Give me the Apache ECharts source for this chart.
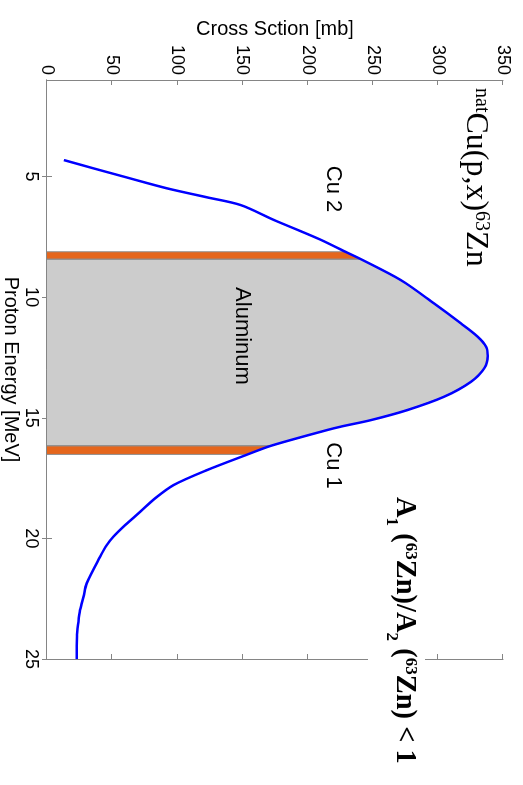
<!DOCTYPE html>
<html>
<head>
<meta charset="utf-8">
<script src="https://cdn.jsdelivr.net/npm/echarts@6/dist/echarts.min.js"></script>
<style>
html,body{margin:0;padding:0;width:523px;height:785px;overflow:hidden;background:#fff;}
#chart{position:absolute;left:0;top:0;width:785px;height:523px;transform-origin:0 0;transform:translate(523px,0) rotate(90deg);}
</style>
</head>
<body>
<div id="chart"></div>
<script>
// Proton energy [MeV] and natCu(p,x)63Zn cross section [mb]
const energyMeV = [4.32, 4.66, 5.00, 5.49, 5.86, 6.18, 6.80, 7.56, 8.12, 8.43, 9.29, 10.26, 11.09, 11.64, 12.06, 12.44, 12.95, 13.51, 14.13, 14.68, 15.10, 15.37, 15.51, 16.16, 16.52, 17.17, 17.79, 18.34, 18.90, 19.45, 19.93, 20.28, 20.76, 21.86, 22.42, 22.97, 23.52, 24.07, 25.00];
const crossSectionMb = [13, 35.5, 58.5, 92, 122.5, 148.5, 174, 207.5, 229, 241, 271.5, 297, 317.7, 330.5, 337, 338.2, 335.6, 325.4, 304.8, 276.7, 248.5, 225.4, 215, 172, 154, 122.8, 97.2, 83, 71.5, 60, 51, 45.9, 40.8, 30.5, 28, 25.4, 24, 23, 22.8];

// Foil energy windows [MeV]
const cu2Range = [8.12, 8.43];
const aluminumRange = [8.43, 16.16];
const cu1Range = [16.16, 16.52];

// Axis ticks
const energyTicks = [5, 10, 15, 20, 25];
const crossTicks = [0, 50, 100, 150, 200, 250, 300, 350];

const curve = energyMeV.map((e, i) => [e, crossSectionMb[i]]);
function band(range) {
  const pts = curve.filter(p => p[0] >= range[0] - 1e-9 && p[0] <= range[1] + 1e-9);
  return [[pts[0][0], 0]].concat(pts, [[pts[pts.length - 1][0], 0]]);
}

const AX = '#858585';
const SANS = 'Liberation Sans, Arial, sans-serif';
const SERIF = 'Liberation Serif, Times New Roman, serif';

const chart = echarts.init(document.getElementById('chart'));

function bandSeries(name, range, color) {
  return {
    name: name, type: 'line', data: band(range), showSymbol: false, symbol: 'none',
    lineStyle: { color: '#8f8f8f', width: 1 },
    areaStyle: { color: color, opacity: 1 },
    z: 2, silent: true
  };
}

const axisCommonX = {
  type: 'value', min: 1, max: 25,
  axisLine: { show: true, lineStyle: { color: AX, width: 1 } },
  axisTick: { show: true, inside: true, length: 5, customValues: energyTicks, lineStyle: { color: AX } },
  splitLine: { show: false }
};
const axisCommonY = {
  type: 'value', min: 0, max: 350, interval: 50,
  axisLine: { show: true, lineStyle: { color: AX, width: 1 } },
  axisTick: { show: true, inside: true, length: 5, customValues: crossTicks, lineStyle: { color: AX } },
  splitLine: { show: false }
};

chart.setOption({
  animation: false,
  backgroundColor: '#fff',
  grid: { left: 80, right: 126, top: 20, bottom: 47, containLabel: false, outerBoundsMode: 'none' },
  xAxis: [
    Object.assign({}, axisCommonX, {
      position: 'bottom',
      axisLabel: { show: true, customValues: energyTicks, margin: 7, fontSize: 18, color: '#000', fontFamily: SANS },
      name: 'Proton Energy [MeV]', nameLocation: 'middle', nameGap: 26, nameMoveOverlap: false,
      nameTextStyle: { fontSize: 20, color: '#000', fontFamily: SANS }
    }),
    Object.assign({}, axisCommonX, { position: 'top', axisLabel: { show: false } })
  ],
  yAxis: [
    Object.assign({}, axisCommonY, {
      position: 'left',
      axisLabel: { show: true, customValues: crossTicks, margin: 5, fontSize: 18, color: '#000', fontFamily: SANS },
      name: 'Cross Sction [mb]', nameLocation: 'middle', nameGap: 41, nameRotate: 90, nameMoveOverlap: false,
      nameTextStyle: { fontSize: 20, color: '#000', fontFamily: SANS }
    }),
    Object.assign({}, axisCommonY, { position: 'right', axisLabel: { show: false } })
  ],
  series: [
    bandSeries('Cu 2', cu2Range, '#e5661c'),
    bandSeries('Aluminum', aluminumRange, '#cccccc'),
    bandSeries('Cu 1', cu1Range, '#e5661c'),
    {
      name: 'natCu(p,x)63Zn', type: 'line', data: curve, showSymbol: false, symbol: 'none',
      smooth: 0.3, lineStyle: { color: '#0000ff', width: 2.5 }, z: 5, silent: true
    }
  ],
  graphic: [
    {
      type: 'text', left: 88, top: 32, z: 100,
      style: {
        text: '{s|nat}{m|Cu(p,x)}{s|63}{m|Zn}',
        rich: {
          m: { fontFamily: SERIF, fontSize: 32, lineHeight: 36, color: '#000', verticalAlign: 'top' },
          s: { fontFamily: SERIF, fontSize: 20, lineHeight: 36, color: '#000', verticalAlign: 'top' }
        }
      }
    },
    {
      type: 'text', left: 494, top: 98, z: 100,
      style: {
        text: '{b|A}{sb|1}{b| (}{sp|63}{b|Zn)/A}{sb|2}{b| (}{sp|63}{b|Zn) < 1}',
        backgroundColor: '#fff', padding: [6.5, 3, 14.5, 3],
        rich: {
          b: { fontFamily: SERIF, fontWeight: 'bold', fontSize: 28.5, lineHeight: 36, color: '#000', verticalAlign: 'top' },
          sb: { fontFamily: SERIF, fontWeight: 'bold', fontSize: 17, lineHeight: 36, color: '#000', verticalAlign: 'bottom' },
          sp: { fontFamily: SERIF, fontWeight: 'bold', fontSize: 17, lineHeight: 36, color: '#000', verticalAlign: 'top' }
        }
      }
    },
    {
      type: 'text', z: 100, x: 189, y: 190,
      style: { text: 'Cu 2', fontFamily: SANS, fontSize: 22, fill: '#000', align: 'center', verticalAlign: 'middle' }
    },
    {
      type: 'text', z: 100, x: 465.5, y: 190,
      style: { text: 'Cu 1', fontFamily: SANS, fontSize: 22, fill: '#000', align: 'center', verticalAlign: 'middle' }
    },
    {
      type: 'text', z: 100, x: 336, y: 281,
      style: { text: 'Aluminum', fontFamily: SANS, fontSize: 22, fill: '#000', align: 'center', verticalAlign: 'middle' }
    }
  ]
});
</script>
</body>
</html>
